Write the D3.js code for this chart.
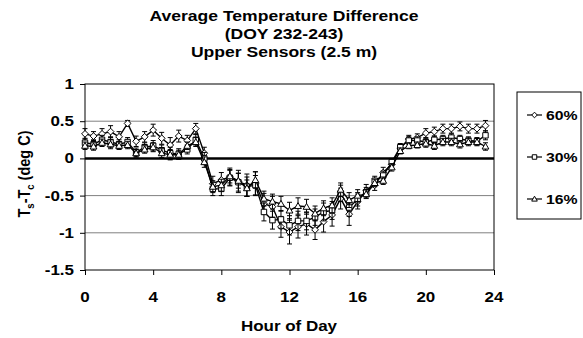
<!DOCTYPE html>
<html><head><meta charset="utf-8">
<script src="https://cdn.jsdelivr.net/npm/d3@7"></script>
<style>body{margin:0;background:#fff}svg{display:block}text{font-family:"Liberation Sans",Arial,sans-serif;font-weight:bold;fill:#000}</style>
</head><body>
<script>
const hours = d3.range(0, 24, 0.5);
const seriesNames = ["60%", "30%", "16%"];
const v60 = [0.33,0.30,0.33,0.36,0.29,0.47,0.23,0.29,0.38,0.27,0.18,0.30,0.24,0.40,0.07,-0.34,-0.29,-0.25,-0.31,-0.36,-0.34,-0.61,-0.65,-0.92,-0.99,-0.92,-0.88,-0.96,-0.85,-0.76,-0.54,-0.75,-0.58,-0.43,-0.36,-0.19,-0.08,0.14,0.26,0.28,0.34,0.36,0.40,0.40,0.43,0.40,0.40,0.44];
const v30 = [0.21,0.19,0.25,0.22,0.19,0.22,0.08,0.15,0.17,0.11,0.07,0.06,0.12,0.25,0.00,-0.41,-0.41,-0.26,-0.32,-0.38,-0.36,-0.72,-0.83,-0.82,-0.90,-0.84,-0.84,-0.79,-0.72,-0.70,-0.47,-0.66,-0.55,-0.46,-0.30,-0.23,-0.05,0.15,0.24,0.24,0.22,0.25,0.26,0.28,0.26,0.24,0.23,0.31];
const v16 = [0.17,0.16,0.21,0.19,0.17,0.18,0.07,0.12,0.15,0.07,0.05,0.05,0.17,0.22,-0.05,-0.38,-0.36,-0.24,-0.30,-0.40,-0.29,-0.54,-0.58,-0.61,-0.70,-0.64,-0.65,-0.74,-0.67,-0.63,-0.42,-0.56,-0.50,-0.48,-0.33,-0.30,-0.12,0.10,0.17,0.18,0.20,0.17,0.22,0.22,0.19,0.22,0.22,0.16];
const e60 = [0.07,0.06,0.07,0.08,0.07,0.04,0.07,0.07,0.08,0.08,0.10,0.08,0.07,0.07,0.08,0.10,0.10,0.12,0.15,0.15,0.16,0.14,0.14,0.14,0.16,0.15,0.15,0.13,0.14,0.15,0.14,0.15,0.10,0.08,0.07,0.07,0.06,0.05,0.05,0.05,0.06,0.06,0.06,0.06,0.06,0.06,0.06,0.07];
const e30 = [0.06,0.06,0.06,0.07,0.06,0.06,0.06,0.06,0.07,0.07,0.08,0.07,0.06,0.07,0.08,0.09,0.09,0.10,0.12,0.13,0.13,0.12,0.12,0.12,0.13,0.13,0.12,0.11,0.12,0.12,0.11,0.12,0.09,0.07,0.06,0.06,0.05,0.05,0.05,0.05,0.05,0.05,0.05,0.05,0.05,0.05,0.05,0.06];
const e16 = [0.05,0.05,0.05,0.06,0.05,0.05,0.05,0.05,0.06,0.06,0.07,0.06,0.05,0.06,0.07,0.08,0.08,0.09,0.10,0.11,0.11,0.10,0.10,0.10,0.11,0.11,0.10,0.10,0.10,0.10,0.09,0.10,0.08,0.06,0.05,0.05,0.05,0.04,0.04,0.04,0.05,0.05,0.05,0.05,0.05,0.05,0.05,0.05];
const xTicks = [0,4,8,12,16,20,24];
const yTicks = [1,0.5,0,-0.5,-1,-1.5];
const gridVals = [0.5,-0.5,-1];
const titleLines = ["Average Temperature Difference","(DOY 232-243)","Upper Sensors (2.5 m)"];

const W = 583, H = 338, SX = 1.17;
const svg = d3.select("body").append("svg").attr("width", W).attr("height", H);
const x = d3.scaleLinear().domain([0,24]).range([85,494]);
const y = d3.scaleLinear().domain([-1.5,1]).range([270,84]);

function stext(sel, tx, ty, extra) {
  return sel.attr("transform", `translate(${tx},${ty}) scale(${SX},1)` + (extra||""));
}

// grid
svg.selectAll(".grid").data(gridVals).join("line")
  .attr("x1", x(0)).attr("x2", x(24)).attr("y1", d=>y(d)).attr("y2", d=>y(d))
  .attr("stroke", "#808080").attr("stroke-width", 1);
// frame
svg.append("rect").attr("x", x(0)).attr("y", y(1)).attr("width", x(24)-x(0)).attr("height", y(-1.5)-y(1))
  .attr("fill","none").attr("stroke","#000").attr("stroke-width",1);
// zero line
svg.append("line").attr("x1", x(0)).attr("x2", x(24)).attr("y1", y(0)).attr("y2", y(0))
  .attr("stroke","#000").attr("stroke-width",2.5);

// axes ticks
const yAxis = d3.axisLeft(y).tickValues(yTicks).tickSize(5).tickFormat(()=>"");
svg.append("g").attr("transform",`translate(${x(0)},0)`).call(yAxis).call(g=>g.select(".domain").remove())
  .selectAll("line").attr("stroke","#000");
const xAxis = d3.axisBottom(x).tickValues(xTicks).tickSize(5).tickFormat(()=>"");
svg.append("g").attr("transform",`translate(0,${y(-1.5)})`).call(xAxis).call(g=>g.select(".domain").remove())
  .selectAll("line").attr("stroke","#000");

// tick labels
svg.selectAll(".yl").data(yTicks).join("text")
  .attr("text-anchor","end").attr("dominant-baseline","central").attr("font-size",14.5)
  .each(function(d){ stext(d3.select(this), 74, y(d)); })
  .text(d=>String(d));
svg.selectAll(".xl").data(xTicks).join("text")
  .attr("text-anchor","middle").attr("font-size",14.5)
  .each(function(d){ stext(d3.select(this), x(d), 301.5); })
  .text(d=>d);

// axis titles
stext(svg.append("text").attr("text-anchor","middle").attr("font-size",14.5), 289, 331).text("Hour of Day");
const yt = svg.append("text").attr("text-anchor","middle").attr("font-size",14.5)
  .attr("transform",`translate(30,174) scale(${SX},1) rotate(-90)`);
yt.append("tspan").text("T");
yt.append("tspan").attr("font-size",9.5).attr("dy",3).text("s");
yt.append("tspan").attr("dy",-3).text("-T");
yt.append("tspan").attr("font-size",9.5).attr("dy",3).text("c");
yt.append("tspan").attr("dy",-3).text(" (deg C)");

// title
titleLines.forEach((t,i)=>{
  stext(svg.append("text").attr("text-anchor","middle").attr("font-size",15), 284, 20.7 + i*18.2).text(t);
});

// series
const series = [
  {name: seriesNames[0], vals: v60, errs: e60, shape: "diamond"},
  {name: seriesNames[1], vals: v30, errs: e30, shape: "square"},
  {name: seriesNames[2], vals: v16, errs: e16, shape: "triangle"}
];
function markerPath(shape, s) {
  if (shape === "diamond") return `M0,${-s}L${s},0L0,${s}L${-s},0Z`;
  if (shape === "square") return `M${-s*0.8},${-s*0.8}H${s*0.8}V${s*0.8}H${-s*0.8}Z`;
  return `M0,${-s}L${s},${s*0.75}L${-s},${s*0.75}Z`;
}
const line = d3.line().x(d=>x(d.h)).y(d=>y(d.v));
series.forEach(s=>{
  const pts = hours.map((h,i)=>({h, v: s.vals[i], e: s.errs[i]}));
  const g = svg.append("g");
  const eb = g.selectAll(".eb").data(pts).join("g");
  eb.append("line").attr("x1",d=>x(d.h)).attr("x2",d=>x(d.h)).attr("y1",d=>y(d.v+d.e)).attr("y2",d=>y(d.v-d.e)).attr("stroke","#000").attr("stroke-width",1);
  eb.append("line").attr("x1",d=>x(d.h)-2.5).attr("x2",d=>x(d.h)+2.5).attr("y1",d=>y(d.v+d.e)).attr("y2",d=>y(d.v+d.e)).attr("stroke","#000").attr("stroke-width",1);
  eb.append("line").attr("x1",d=>x(d.h)-2.5).attr("x2",d=>x(d.h)+2.5).attr("y1",d=>y(d.v-d.e)).attr("y2",d=>y(d.v-d.e)).attr("stroke","#000").attr("stroke-width",1);
  s.g = g; s.pts = pts;
});
series.forEach(s=>{
  s.g.append("path").datum(s.pts).attr("d", line).attr("fill","none").attr("stroke","#000").attr("stroke-width",1.4);
});
series.forEach(s=>{
  s.g.selectAll(".mk").data(s.pts).join("path")
    .attr("transform", d=>`translate(${x(d.h)},${y(d.v)})`)
    .attr("d", markerPath(s.shape, 3.4)).attr("fill","#fff").attr("stroke","#000").attr("stroke-width",1);
});

// legend
svg.append("rect").attr("x",517).attr("y",92).attr("width",64).attr("height",127)
  .attr("fill","#fff").attr("stroke","#000").attr("stroke-width",1);
const legY = [115,157,199];
series.forEach((s,i)=>{
  svg.append("line").attr("x1",527).attr("x2",542).attr("y1",legY[i]).attr("y2",legY[i]).attr("stroke","#000").attr("stroke-width",1.2);
  svg.append("path").attr("transform",`translate(534.5,${legY[i]})`).attr("d", markerPath(s.shape, 2.8))
    .attr("fill","#fff").attr("stroke","#000").attr("stroke-width",1);
  stext(svg.append("text").attr("font-size",13.5).attr("dominant-baseline","central"), 546, legY[i]).text(s.name);
});
</script>
</body></html>
